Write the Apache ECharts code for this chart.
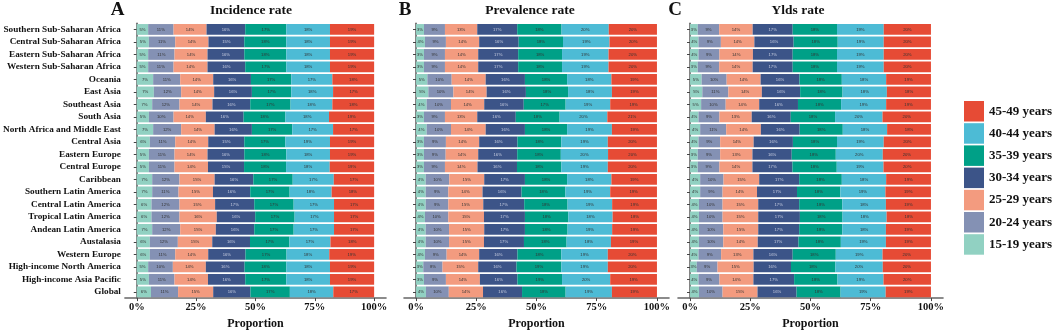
<!DOCTYPE html>
<html>
<head>
<meta charset="utf-8">
<script src="https://cdn.jsdelivr.net/npm/echarts@6/dist/echarts.min.js"></script>
<style>
html,body{margin:0;padding:0;background:#fff;}
#chart{width:1052px;height:335px;}
</style>
</head>
<body>
<div id="chart"></div>
<script>
const regions = ["Southern Sub-Saharan Africa","Central Sub-Saharan Africa","Eastern Sub-Saharan Africa","Western Sub-Saharan Africa","Oceania","East Asia","Southeast Asia","South Asia","North Africa and Middle East","Central Asia","Eastern Europe","Central Europe","Caribbean","Southern Latin America","Central Latin America","Tropical Latin America","Andean Latin America","Austalasia","Western Europe","High-income North America","High-income Asia Pacific","Global"];
const ageGroups = ["15-19 years","20-24 years","25-29 years","30-34 years","35-39 years","40-44 years","45-49 years"];
const ageColors = ["#91D1C2","#8491B4","#F39B7F","#3C5488","#00A087","#4DBBD5","#E64B35"];
const tickValues = [0,25,50,75,100];
const panelTitles = ["Incidence rate","Prevalence rate","Ylds rate"];
const panelLetters = ["A","B","C"];

// rows = regions, columns = age groups (percent)
const incidence = [
[4.8,10.7,13.9,16.3,17.3,18.4,18.6],
[5.1,11.1,14.0,15.1,17.7,18.4,18.6],
[4.8,11.1,13.9,15.5,17.7,18.4,18.6],
[4.8,10.7,14.3,15.9,17.3,18.4,18.6],
[6.9,11.4,13.9,15.9,17.0,17.3,17.6],
[7.2,11.5,13.9,15.9,16.6,17.6,17.3],
[6.5,11.5,13.9,15.9,17.0,17.6,17.6],
[5.1,10.4,13.6,15.9,17.6,18.4,19.0],
[6.9,11.8,14.1,15.7,17.0,17.2,17.3],
[5.5,10.7,13.9,15.2,17.3,18.8,18.6],
[5.1,10.8,13.9,15.5,17.7,18.4,18.6],
[5.1,10.8,14.1,15.2,17.7,18.4,18.7],
[6.5,11.5,14.8,16.3,16.6,17.3,17.0],
[6.5,11.1,14.5,15.7,16.6,17.7,17.9],
[6.2,11.8,15.0,16.5,16.6,17.0,16.9],
[6.2,11.8,15.7,16.2,16.6,16.6,16.9],
[6.5,11.8,15.0,16.2,16.6,17.0,16.9],
[5.5,11.8,14.5,15.9,16.6,17.3,18.4],
[5.5,10.7,13.9,15.7,17.3,18.0,18.9],
[4.8,10.4,13.9,16.3,17.6,18.4,18.6],
[5.1,10.8,14.1,15.7,17.3,18.4,18.6],
[6.0,11.4,14.8,15.7,16.6,18.3,17.2]
];
const prevalence = [
[3.3,8.7,13.4,16.6,18.4,19.6,20.0],
[3.7,8.7,13.8,16.4,18.4,19.3,19.7],
[3.3,8.7,13.8,16.6,18.2,19.3,20.1],
[3.3,8.7,13.8,16.6,18.2,19.3,20.1],
[4.7,10.1,14.1,16.3,17.5,18.4,18.9],
[5.1,10.4,13.8,16.3,17.5,18.2,18.7],
[4.4,10.1,13.8,16.4,17.4,18.5,19.4],
[3.3,8.7,13.4,16.0,18.2,19.8,20.6],
[4.4,10.1,14.4,16.3,17.5,18.6,18.7],
[3.3,9.1,13.8,15.9,18.2,19.3,20.4],
[3.3,9.0,13.5,16.2,18.1,19.6,20.3],
[3.3,8.7,13.5,16.4,18.4,19.3,20.4],
[4.0,9.8,14.5,16.9,17.5,18.4,18.9],
[4.0,9.4,14.2,16.2,18.2,18.6,19.4],
[4.0,9.4,14.5,17.0,18.0,18.5,18.6],
[3.7,9.7,14.8,17.0,18.0,18.4,18.4],
[4.0,9.7,14.6,16.9,17.7,18.5,18.6],
[4.0,9.7,14.5,16.6,17.7,18.4,19.1],
[3.7,9.0,13.5,15.9,18.2,19.3,20.4],
[3.0,8.0,14.8,15.9,18.6,19.3,20.4],
[3.3,9.1,14.1,15.6,18.5,20.0,19.4],
[4.1,9.5,14.2,16.2,18.1,19.2,18.7]
];
const ylds = [
[3.2,8.9,13.9,16.6,18.4,19.4,19.6],
[3.5,9.3,13.9,16.3,18.3,19.1,19.6],
[3.5,8.7,13.9,16.5,18.4,19.4,19.6],
[3.2,8.9,13.9,16.6,18.4,19.4,19.6],
[4.8,10.4,14.1,16.1,17.6,18.4,18.6],
[5.1,10.8,13.9,15.9,17.6,18.4,18.3],
[4.6,10.2,13.9,16.1,17.9,18.7,18.6],
[3.5,8.7,13.4,16.2,18.4,19.7,20.1],
[4.2,10.8,14.4,16.1,17.9,18.4,18.2],
[3.5,9.0,13.9,16.3,18.3,19.4,19.6],
[3.2,9.3,13.4,16.3,18.3,19.5,20.0],
[3.2,9.0,13.7,16.6,18.4,19.4,19.7],
[4.2,9.7,14.8,16.6,17.7,18.4,18.6],
[4.2,9.3,14.3,16.6,18.0,18.7,18.9],
[3.7,9.8,14.8,17.0,17.9,18.1,18.7],
[3.7,9.8,14.8,17.3,17.7,18.3,18.4],
[3.7,10.1,14.5,17.0,17.9,18.1,18.7],
[3.7,10.1,14.3,16.9,17.6,18.7,18.7],
[3.5,9.4,13.4,16.3,17.9,19.4,20.1],
[2.8,8.6,15.0,15.5,18.4,19.7,20.0],
[3.5,8.7,14.1,16.9,18.0,19.1,19.7],
[3.7,9.8,14.5,16.2,18.3,18.7,18.8]
];

const panels = [incidence, prevalence, ylds];
const serif = "'Liberation Serif','Times New Roman',serif";
const gridLefts = [121, 404, 678];
const gridWidth = 265;
const gridTop = 23.2, gridHeight = 277.4;
const axisColor = "#666666";

const grids = [], xAxes = [], yAxes = [], series = [], graphics = [];
panels.forEach((rows, p) => {
  grids.push({left: gridLefts[p], top: gridTop, width: gridWidth, height: gridHeight, containLabel: false});
  xAxes.push({
    type: 'value', gridIndex: p, min: -5, max: 105,
    axisLine: {show: true, lineStyle: {color: axisColor, width: 1.6}},
    axisTick: {show: true, customValues: tickValues, length: 3, lineStyle: {color: '#444'}},
    axisLabel: {customValues: tickValues, formatter: v => v + '%', fontFamily: serif, fontWeight: 'bold', fontSize: 10.5, color: '#111', margin: 4},
    splitLine: {show: false},
    name: 'Proportion', nameLocation: 'middle', nameGap: 19,
    nameTextStyle: {fontFamily: serif, fontWeight: 'bold', fontSize: 12, color: '#111'}
  });
  yAxes.push({
    type: 'category', gridIndex: p, data: regions, inverse: true,
    axisLine: {show: true, lineStyle: {color: axisColor, width: 1.6}},
    axisTick: {show: true, alignWithLabel: true, length: 3, lineStyle: {color: '#444'}},
    axisLabel: {show: p === 0, fontFamily: serif, fontWeight: 'bold', fontSize: 9.2, color: '#111', margin: 4}
  });
  ageGroups.forEach((age, k) => {
    series.push({
      type: 'bar', name: age, stack: 'panel' + p, xAxisIndex: p, yAxisIndex: p,
      barWidth: 10.8,
      data: rows.map(r => r[k]),
      itemStyle: {color: ageColors[k]},
      label: {show: true, position: 'inside', fontSize: 4.2, color: k === 3 ? '#c8cde0' : '#333',
        formatter: params => Math.round(params.value) + '%'},
      emphasis: {disabled: true}
    });
  });
});

const titleX = [251, 530, 798];
const letterX = [117.5, 405, 675];
panels.forEach((rows, p) => {
  graphics.push({type: 'text', x: letterX[p], y: 10.5, style: {text: panelLetters[p], fontFamily: serif, fontWeight: 'bold', fontSize: 19, fill: '#111', align: 'center', verticalAlign: 'middle'}});
  graphics.push({type: 'text', x: titleX[p], y: 11, style: {text: panelTitles[p], fontFamily: serif, fontWeight: 'bold', fontSize: 13.5, fill: '#111', align: 'center', verticalAlign: 'middle'}});
});

const chart = echarts.init(document.getElementById('chart'), null, {renderer: 'canvas'});
chart.setOption({
  animation: false,
  backgroundColor: '#fff',
  grid: grids,
  xAxis: xAxes,
  yAxis: yAxes,
  series: series,
  graphic: graphics,
  legend: {
    orient: 'vertical', left: 959, top: 96,
    data: ageGroups.slice().reverse(),
    itemWidth: 20, itemHeight: 20.5, itemGap: 1.7,
    icon: 'rect',
    textStyle: {fontFamily: serif, fontWeight: 'bold', fontSize: 13, color: '#111'}
  }
});
</script>
</body>
</html>
